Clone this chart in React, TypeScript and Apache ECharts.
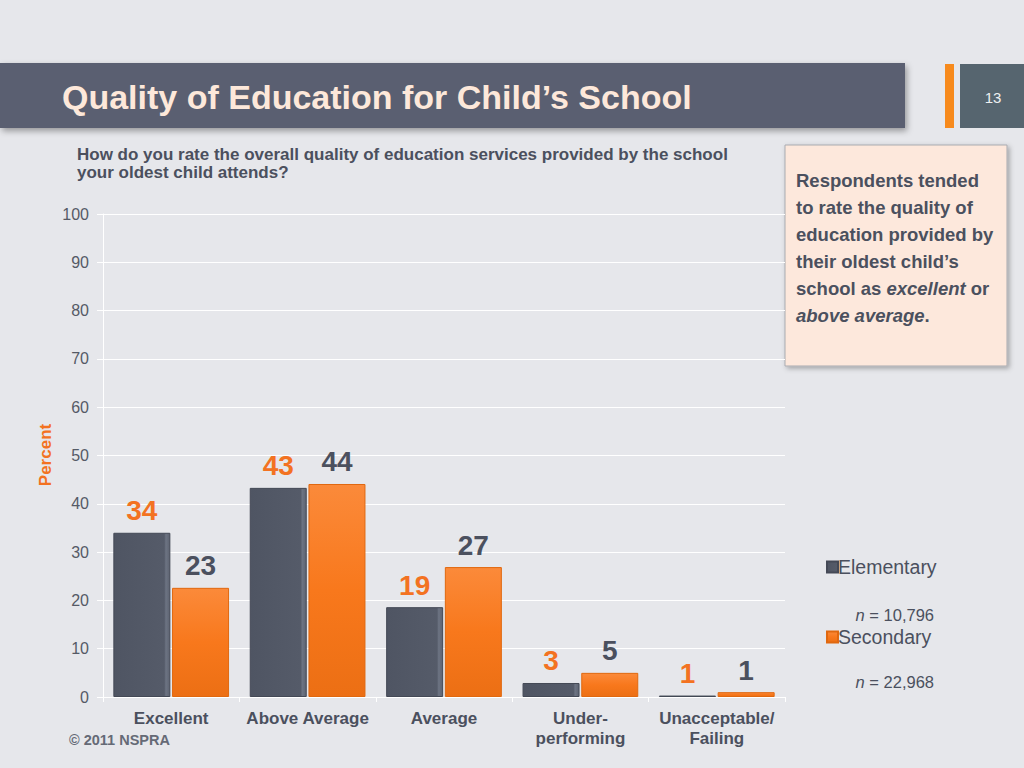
import React, { useEffect, useRef } from "react";
import * as echarts from "echarts";

const categories = ["Excellent", "Above Average", "Average", "Under-\nperforming", "Unacceptable/\nFailing"];
const elementaryValues = [34, 43.3, 18.6, 2.9, 0.3];
const secondaryValues = [22.6, 44.1, 26.9, 5, 1];
const elementaryLabels = ["34", "43", "19", "3", "1"];
const secondaryLabels = ["23", "44", "27", "5", "1"];
const yTicks = [0, 10, 20, 30, 40, 50, 60, 70, 80, 90, 100];
const seriesNames = ["Elementary", "Secondary"];
const sampleSizes = ["10,796", "22,968"];

const FONT = "Liberation Sans, Arial, sans-serif";
const DARK = "#4b505e";
const ORANGE = "#f37221";

export default function App() {
  const ref = useRef<HTMLDivElement>(null);
  useEffect(() => {
    document.body.style.margin = "0";
    const chart = echarts.init(ref.current!, null, { renderer: "svg" });
    const darkFill = new echarts.graphic.LinearGradient(0, 0, 1, 0, [
      { offset: 0, color: "#4f5563" },
      { offset: 0.9, color: "#555b69" },
      { offset: 0.93, color: "#6d7483" },
      { offset: 1, color: "#5d6371" },
    ]);
    const orangeFill = new echarts.graphic.LinearGradient(0, 0, 0, 1, [
      { offset: 0, color: "#fb8a3a" },
      { offset: 0.5, color: "#f8781c" },
      { offset: 1, color: "#ec6f14" },
    ]);
    const option: any = {
      animation: false,
      backgroundColor: "#e6e7eb",
      textStyle: { fontFamily: FONT },
      grid: { left: 103, right: 239, top: 214, bottom: 71 },
      legend: {
        orient: "vertical",
        left: 821,
        top: 552,
        itemGap: 50,
        itemWidth: 11,
        itemHeight: 11,
        icon: "rect",
        textStyle: { fontSize: 19.5, color: DARK, fontFamily: FONT, padding: [0, 0, 0, -5] },
        data: seriesNames,
      },
      xAxis: {
        type: "category",
        data: categories,
        axisLine: { lineStyle: { color: "#ffffff", width: 1 } },
        axisTick: { show: true, lineStyle: { color: "#ffffff" }, length: 5 },
        axisLabel: {
          color: DARK,
          fontWeight: "bold",
          fontSize: 17,
          lineHeight: 20,
          margin: 11,
          fontFamily: FONT,
          interval: 0,
        },
      },
      yAxis: {
        type: "value",
        min: 0,
        max: 100,
        interval: 10,
        axisLine: { show: true, lineStyle: { color: "#ffffff" } },
        axisTick: { show: true, lineStyle: { color: "#ffffff" }, length: 6 },
        splitLine: { lineStyle: { color: "#ffffff", width: 1 } },
        axisLabel: {
          color: "#555a66",
          fontSize: 16,
          margin: 14,
          fontFamily: FONT,
          formatter: (v: number) => (yTicks.includes(v) ? String(v) : ""),
        },
      },
      series: [
        {
          name: seriesNames[0],
          type: "bar",
          data: elementaryValues,
          barWidth: 57,
          barGap: "3%",
          itemStyle: { color: darkFill, borderColor: "#444956", borderWidth: 1 },
          label: {
            show: true,
            position: "top",
            distance: 8,
            color: ORANGE,
            fontSize: 28,
            fontWeight: "bold",
            fontFamily: FONT,
            formatter: (p: any) => elementaryLabels[p.dataIndex],
          },
        },
        {
          name: seriesNames[1],
          type: "bar",
          data: secondaryValues,
          barWidth: 57,
          itemStyle: { color: orangeFill, borderColor: "#e0680f", borderWidth: 1 },
          label: {
            show: true,
            position: "top",
            distance: 8,
            color: DARK,
            fontSize: 28,
            fontWeight: "bold",
            fontFamily: FONT,
            formatter: (p: any) => secondaryLabels[p.dataIndex],
          },
        },
      ],
      graphic: [
        {
          type: "rect",
          shape: { x: 0, y: 63, width: 905, height: 65 },
          style: { fill: "#5a5f71", shadowBlur: 6, shadowColor: "rgba(0,0,0,0.35)", shadowOffsetX: 2, shadowOffsetY: 3 },
        },
        {
          type: "text",
          x: 62,
          y: 97,
          style: {
            text: "Quality of Education for Child\u2019s School",
            fill: "#fde8da",
            font: `bold 34px ${FONT}`,
            verticalAlign: "middle",
          },
        },
        { type: "rect", shape: { x: 945, y: 64, width: 9, height: 64 }, style: { fill: "#f78a1c" } },
        { type: "rect", shape: { x: 960, y: 64, width: 64, height: 64 }, style: { fill: "#56656f" } },
        {
          type: "text",
          x: 993,
          y: 97,
          style: { text: "13", fill: "#eef0f2", font: `15px ${FONT}`, align: "center", verticalAlign: "middle" },
        },
        {
          type: "text",
          x: 77,
          y: 145,
          style: {
            text: "How do you rate the overall quality of education services provided by the school\nyour oldest child attends?",
            fill: DARK,
            font: `bold 17px ${FONT}`,
            lineHeight: 18,
          },
        },
        {
          type: "rect",
          shape: { x: 785, y: 145, width: 222, height: 221 },
          style: {
            fill: "#fde8dc",
            stroke: "#a9abb0",
            lineWidth: 1,
            shadowBlur: 5,
            shadowColor: "rgba(0,0,0,0.3)",
            shadowOffsetX: 2,
            shadowOffsetY: 2,
          },
        },
        {
          type: "text",
          x: 796,
          y: 167,
          style: {
            text: "{b|Respondents tended}\n{b|to rate the quality of}\n{b|education provided by}\n{b|their oldest child\u2019s}\n{b|school as }{i|excellent}{b| or}\n{i|above average}{b|.}",
            rich: {
              b: { font: `bold 18.5px ${FONT}`, fill: DARK, lineHeight: 27 },
              i: { font: `italic bold 18.5px ${FONT}`, fill: DARK, lineHeight: 27 },
            },
          },
        },
        {
          type: "text",
          x: 45,
          y: 455,
          rotation: Math.PI / 2,
          style: {
            text: "Percent",
            fill: ORANGE,
            font: `bold 17px ${FONT}`,
            align: "center",
            verticalAlign: "middle",
          },
        },
        {
          type: "text",
          x: 934,
          y: 615,
          style: {
            text: `{i|n}{r| = ${sampleSizes[0]}}`,
            align: "right",
            verticalAlign: "middle",
            rich: {
              i: { font: `italic 16.5px ${FONT}`, fill: DARK },
              r: { font: `16.5px ${FONT}`, fill: DARK },
            },
          },
        },
        {
          type: "text",
          x: 934,
          y: 682,
          style: {
            text: `{i|n}{r| = ${sampleSizes[1]}}`,
            align: "right",
            verticalAlign: "middle",
            rich: {
              i: { font: `italic 16.5px ${FONT}`, fill: DARK },
              r: { font: `16.5px ${FONT}`, fill: DARK },
            },
          },
        },
        {
          type: "text",
          x: 69,
          y: 740,
          style: { text: "\u00a9 2011 NSPRA", fill: "#656a76", font: `bold 14.5px ${FONT}`, verticalAlign: "middle" },
        },
      ],
    };
    chart.setOption(option);
    return () => chart.dispose();
  }, []);
  return <div ref={ref} style={{ width: 1024, height: 768 }} />;
}
